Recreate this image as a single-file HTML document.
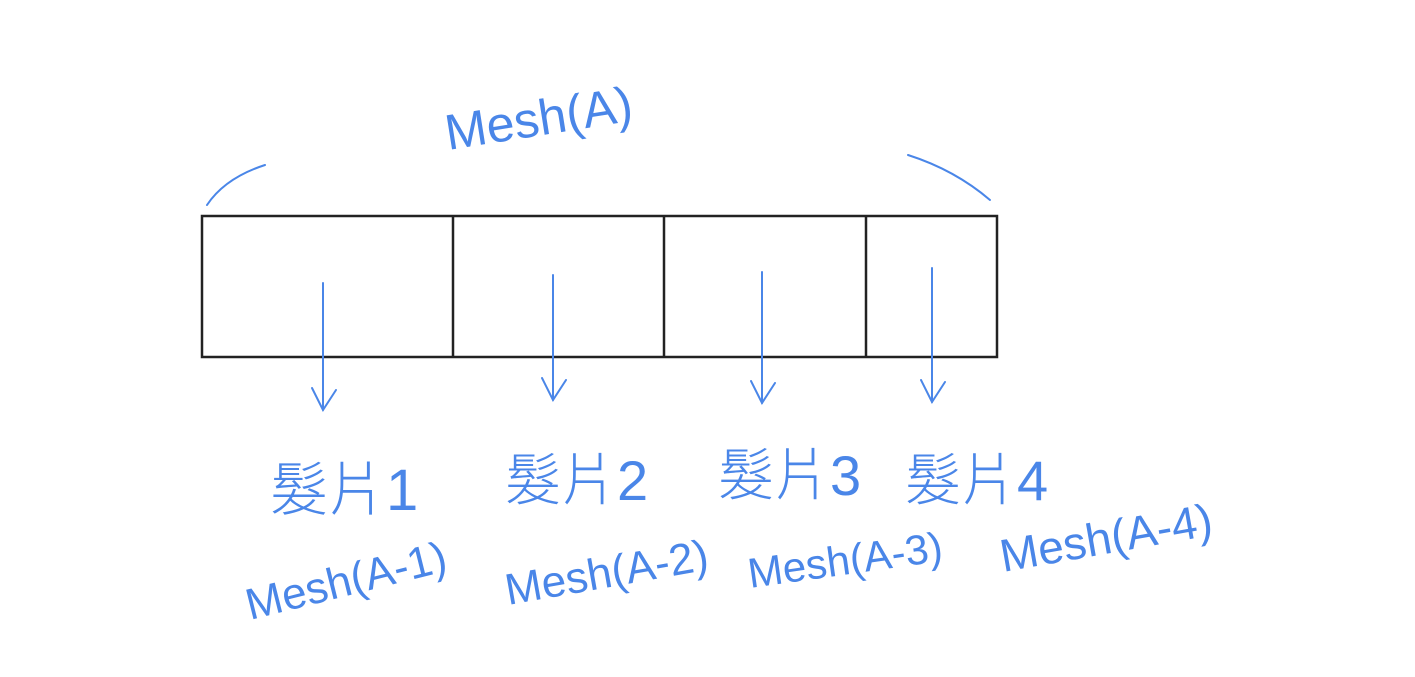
<!DOCTYPE html>
<html><head><meta charset="utf-8"><style>
html,body{margin:0;padding:0;background:#fff;}
svg{display:block;}
text{font-family:"Liberation Sans","Noto Sans CJK TC",sans-serif;fill:#4a86e8;font-weight:300;}
</style></head><body>
<svg width="1415" height="677" viewBox="0 0 1415 677" xmlns="http://www.w3.org/2000/svg">
<g stroke="#222" stroke-width="2.5" fill="none">
<rect x="202" y="216" width="795" height="141"/>
<line x1="453" y1="216" x2="453" y2="357"/>
<line x1="664" y1="216" x2="664" y2="357"/>
<line x1="866" y1="216" x2="866" y2="357"/>
</g>
<g stroke="#4a86e8" stroke-width="2" fill="none" stroke-linecap="round">
<path d="M207 205 Q225 178 265 165"/>
<path d="M908 155 Q955 170 990 200"/>
<line x1="323" y1="283" x2="323" y2="410"/><path d="M312 388 L323 410 L336 390"/>
<line x1="553" y1="275" x2="553" y2="400"/><path d="M542 378 L553 400 L566 380"/>
<line x1="762" y1="272" x2="762" y2="403"/><path d="M751 381 L762 403 L775 383"/>
<line x1="932" y1="268" x2="932" y2="402"/><path d="M921 380 L932 402 L945 382"/>
</g>
<text x="448" y="150" font-size="50" transform="rotate(-9 448 150)">Mesh(A)</text>
<text x="270" y="510" font-size="58">髮片1</text>
<text x="505" y="500" font-size="56">髮片2</text>
<text x="718" y="495" font-size="56">髮片3</text>
<text x="905" y="500" font-size="56">髮片4</text>
<text x="250" y="620" font-size="44" transform="rotate(-14 250 620)">Mesh(A-1)</text>
<text x="508" y="605" font-size="44" transform="rotate(-10 508 605)">Mesh(A-2)</text>
<text x="750" y="588" font-size="42" transform="rotate(-8 750 588)">Mesh(A-3)</text>
<text x="1003" y="572" font-size="46" transform="rotate(-10 1003 572)">Mesh(A-4)</text>
</svg>
</body></html>
